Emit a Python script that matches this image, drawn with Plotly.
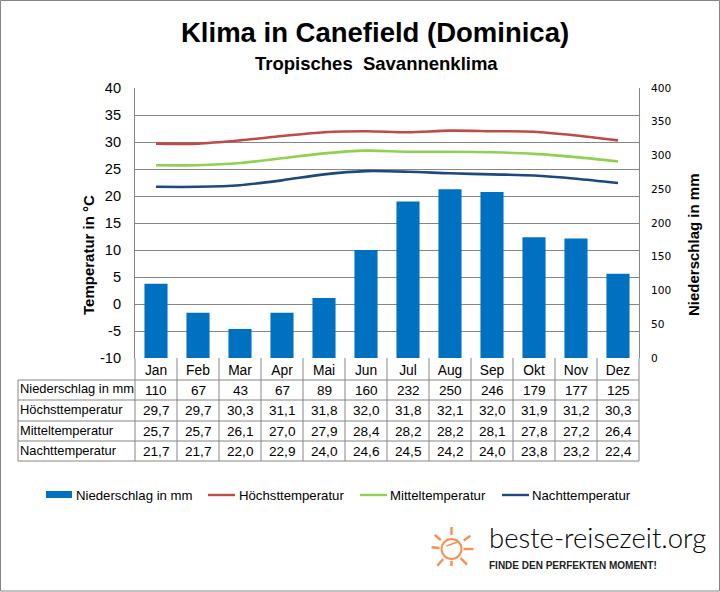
import math
import plotly.graph_objects as go

months = ["Jan", "Feb", "Mar", "Apr", "Mai", "Jun", "Jul", "Aug", "Sep", "Okt", "Nov", "Dez"]
niederschlag = [110, 67, 43, 67, 89, 160, 232, 250, 246, 179, 177, 125]
hoechst = [29.7, 29.7, 30.3, 31.1, 31.8, 32.0, 31.8, 32.1, 32.0, 31.9, 31.2, 30.3]
mittel = [25.7, 25.7, 26.1, 27.0, 27.9, 28.4, 28.2, 28.2, 28.1, 27.8, 27.2, 26.4]
nacht = [21.7, 21.7, 22.0, 22.9, 24.0, 24.6, 24.5, 24.2, 24.0, 23.8, 23.2, 22.4]
temp_ticks = [-10, -5, 0, 5, 10, 15, 20, 25, 30, 35, 40]

FONT = "Liberation Sans"
GREY = "#868686"
BLUE = "#0070C0"
RED = "#BE4B48"
GREEN = "#92D050"
NAVY = "#1F497D"
ORANGE = "#F58F52"

# plot area in pixels
L, R, T, B = 135, 639, 88, 358


def px(x):
    return (x - L) / (R - L)


def py(y):
    return (B - y) / (B - T)


shapes = []
annotations = []


def line(x0, y0, x1, y1, color=GREY, width=1):
    shapes.append(dict(type="line", xref="paper", yref="paper", x0=px(x0), y0=py(y0), x1=px(x1), y1=py(y1),
                       line=dict(color=color, width=width)))


def text(x, y, s, size=13, color="#000000", anchor="center", font=FONT, bold=False, angle=0, weight=None):
    if bold:
        s = "<b>" + s + "</b>"
    f = dict(family=font, size=size, color=color)
    if weight:
        f["weight"] = weight
    annotations.append(dict(xref="paper", yref="paper", x=px(x), y=py(y), text=s, showarrow=False,
                            xanchor=anchor, yanchor="middle", textangle=angle, borderpad=0, font=f))


fig = go.Figure()
fig.add_trace(go.Bar(x=months, y=niederschlag, name="Niederschlag in mm", yaxis="y2", width=0.55,
                     marker=dict(color=BLUE, line=dict(width=0))))
for name, vals, col in [("Höchsttemperatur", hoechst, RED), ("Mitteltemperatur", mittel, GREEN), ("Nachttemperatur", nacht, NAVY)]:
    fig.add_trace(go.Scatter(x=months, y=vals, name=name, mode="lines",
                             line=dict(color=col, width=2.6, shape="spline", smoothing=0.8)))

# table below the chart
row_tops = [380, 400, 421, 441, 461]
row_names = ["Niederschlag in mm", "Höchsttemperatur", "Mitteltemperatur", "Nachttemperatur"]
row_vals = [[str(v) for v in niederschlag]] + [[f"{v:.1f}".replace(".", ",") for v in s] for s in (hoechst, mittel, nacht)]
step = (R - L) / len(months)
for y in row_tops:
    line(18, y, R, y)
line(18, 380, 18, 461)
for i in range(len(months) + 1):
    line(L + i * step, B, L + i * step, 461)
for r, name in enumerate(row_names):
    ymid = (row_tops[r] + row_tops[r + 1]) / 2
    text(18.5, ymid - 1, name, size=12.9, anchor="left")
    for i, v in enumerate(row_vals[r]):
        text(L + (i + 0.5) * step, ymid, v, size=13.6)

# axis titles
text(88, 255, "Temperatur in °C", size=15, bold=True, angle=-90)
text(693, 245, "Niederschlag in mm", size=15, bold=True, angle=-90)

# titles
text(375, 33, "Klima in Canefield (Dominica)", size=27.5, bold=True)
text(376, 63, "Tropisches  Savannenklima", size=18.5, bold=True)

# legend
shapes.append(dict(type="rect", xref="paper", yref="paper", x0=px(46), x1=px(72), y0=py(491), y1=py(498),
                   fillcolor=BLUE, line=dict(width=0)))
text(75, 495, "Niederschlag in mm", size=13.2, anchor="left")
line(208, 495, 235, 495, RED, 2.4)
text(238, 495, "Höchsttemperatur", size=13.2, anchor="left")
line(360, 495, 387, 495, GREEN, 2.4)
text(389, 495, "Mitteltemperatur", size=13.2, anchor="left")
line(502, 495, 529, 495, NAVY, 2.4)
text(531, 495, "Nachttemperatur", size=13.2, anchor="left")

# logo
cx, cy = 451.5, 549
for deg, r0, r1 in [(90, 14, 22), (35, 15, 23), (0, 12, 22), (-45, 13, 22), (-90, 12, 17),
                    (-130, 13, 22), (175, 12, 20), (140, 14, 22)]:
    a = math.radians(deg)
    line(cx + r0 * math.cos(a), cy - r0 * math.sin(a), cx + r1 * math.cos(a), cy - r1 * math.sin(a), ORANGE, 2.4)
shapes.append(dict(type="circle", xref="paper", yref="paper", x0=px(cx - 10), x1=px(cx + 10), y0=py(cy + 10), y1=py(cy - 10),
                   line=dict(color=ORANGE, width=2), fillcolor="rgba(0,0,0,0)"))
line(cx - 5, cy - 3, cx + 6, cy - 7, ORANGE, 1.6)
text(487.5, 537.5, "beste-reisezeit.org", size=27.5, color="#000000", anchor="left", font="Lato", weight=300)
text(487.5, 565, "FINDE DEN PERFEKTEN MOMENT!", size=10, color="#222222", anchor="left", bold=True)

# outer frame
shapes.append(dict(type="rect", xref="paper", yref="paper", x0=px(0.5), x1=px(719.5), y0=py(591), y1=py(0.5),
                   line=dict(color=GREY, width=1), fillcolor="rgba(0,0,0,0)"))

fig.update_layout(
    width=720, height=592, autosize=False,
    margin=dict(l=L, r=720 - R, t=T, b=592 - B, pad=0),
    paper_bgcolor="white", plot_bgcolor="white",
    showlegend=False, bargap=0.45,
    font=dict(family=FONT, color="#000000"),
    shapes=shapes, annotations=annotations,
    xaxis=dict(type="category", categoryorder="array", categoryarray=months, range=[-0.5, 11.5],
               showgrid=False, showline=False, zeroline=False, ticks="",
               tickfont=dict(size=13.8), ticklabelstandoff=2),
    yaxis=dict(range=[-10, 40], tickmode="array", tickvals=temp_ticks, ticktext=[str(t) for t in temp_ticks],
               showgrid=True, gridcolor=GREY, gridwidth=1, zeroline=False,
               showline=True, linecolor=GREY, linewidth=1, mirror=True, ticks="",
               tickfont=dict(size=14.6), ticklabelstandoff=10),
    yaxis2=dict(range=[0, 400], dtick=50, overlaying="y", side="right", showgrid=False, zeroline=False,
                showline=False, ticks="", tickfont=dict(size=10.6, family="DejaVu Sans"), ticklabelstandoff=11),
)

fig.write_html("out.html", config=dict(displayModeBar=False),
               post_script="document.body.style.margin='0';")
